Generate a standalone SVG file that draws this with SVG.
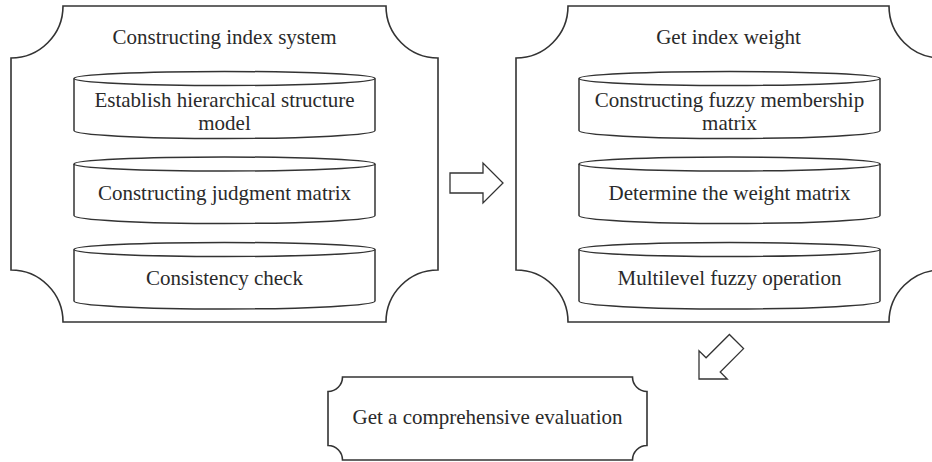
<svg xmlns="http://www.w3.org/2000/svg" width="932" height="462" viewBox="0 0 932 462">
<defs>
<style>
.frame{fill:#fff;stroke:#333;stroke-width:1.6;stroke-linejoin:miter}
.cyl{fill:#fff;stroke:#333;stroke-width:1.5}
.t{font-family:"Liberation Serif","Times New Roman",serif;font-size:21px;fill:#2a2a2a;text-anchor:middle}
.arr{fill:#fff;stroke:#333;stroke-width:1.3;stroke-linejoin:miter}
</style>
<path id="arrow" d="M-53,-10 L-20,-10 L-20,-20 L0,0 L-20,20 L-20,10 L-53,10 Z"/>
</defs>
<rect width="932" height="462" fill="#fff"/>

<g id="panel-left">
<path class="frame" d="M63,6 L386,6 A52,52 0 0 0 438,58 L438,270 A52,52 0 0 0 386,322 L63,322 A52,52 0 0 0 11,270 L11,58 A52,52 0 0 0 63,6 Z"/>
<text class="t" x="224.5" y="44">Constructing index system</text>
</g>
<g id="cyl-l1">
<path class="cyl" d="M74,78.5 L74,130.5 A150.5,8 0 0 0 375,130.5 L375,78.5"/>
<ellipse class="cyl" cx="224.5" cy="78.5" rx="150.5" ry="7"/>
<text class="t" x="224.5" y="107">Establish hierarchical structure</text>
<text class="t" x="224.5" y="130">model</text>
</g>
<g id="cyl-l2">
<path class="cyl" d="M74,164 L74,215.5 A150.5,8 0 0 0 375,215.5 L375,164"/>
<ellipse class="cyl" cx="224.5" cy="164" rx="150.5" ry="7"/>
<text class="t" x="224.5" y="199.5">Constructing judgment matrix</text>
</g>
<g id="cyl-l3">
<path class="cyl" d="M74,249.5 L74,301 A150.5,8 0 0 0 375,301 L375,249.5"/>
<ellipse class="cyl" cx="224.5" cy="249.5" rx="150.5" ry="7"/>
<text class="t" x="224.5" y="285">Consistency check</text>
</g>

<g id="panel-right">
<path class="frame" d="M568,6 L889,6 A52,52 0 0 0 941,58 L941,270 A52,52 0 0 0 889,322 L568,322 A52,52 0 0 0 516,270 L516,58 A52,52 0 0 0 568,6 Z"/>
<text class="t" x="728.5" y="44">Get index weight</text>
</g>
<g id="cyl-r1">
<path class="cyl" d="M579,78.5 L579,130.5 A150.5,8 0 0 0 880,130.5 L880,78.5"/>
<ellipse class="cyl" cx="729.5" cy="78.5" rx="150.5" ry="7"/>
<text class="t" x="729.5" y="107">Constructing fuzzy membership</text>
<text class="t" x="729.5" y="130">matrix</text>
</g>
<g id="cyl-r2">
<path class="cyl" d="M579,164 L579,215.5 A150.5,8 0 0 0 880,215.5 L880,164"/>
<ellipse class="cyl" cx="729.5" cy="164" rx="150.5" ry="7"/>
<text class="t" x="729.5" y="199.5">Determine the weight matrix</text>
</g>
<g id="cyl-r3">
<path class="cyl" d="M579,249.5 L579,301 A150.5,8 0 0 0 880,301 L880,249.5"/>
<ellipse class="cyl" cx="729.5" cy="249.5" rx="150.5" ry="7"/>
<text class="t" x="729.5" y="285">Multilevel fuzzy operation</text>
</g>

<g id="result">
<path class="frame" d="M342.5,377 L632.5,377 A14.5,14.5 0 0 0 647,391.5 L647,445.5 A14.5,14.5 0 0 0 632.5,460 L342.5,460 A14.5,14.5 0 0 0 328,445.5 L328,391.5 A14.5,14.5 0 0 0 342.5,377 Z"/>
<text class="t" x="487.5" y="424">Get a comprehensive evaluation</text>
</g>

<g id="connectors">
<use href="#arrow" class="arr" transform="translate(503,183)"/>
<use href="#arrow" class="arr" transform="translate(699,379) rotate(135)"/>
</g>
</svg>
